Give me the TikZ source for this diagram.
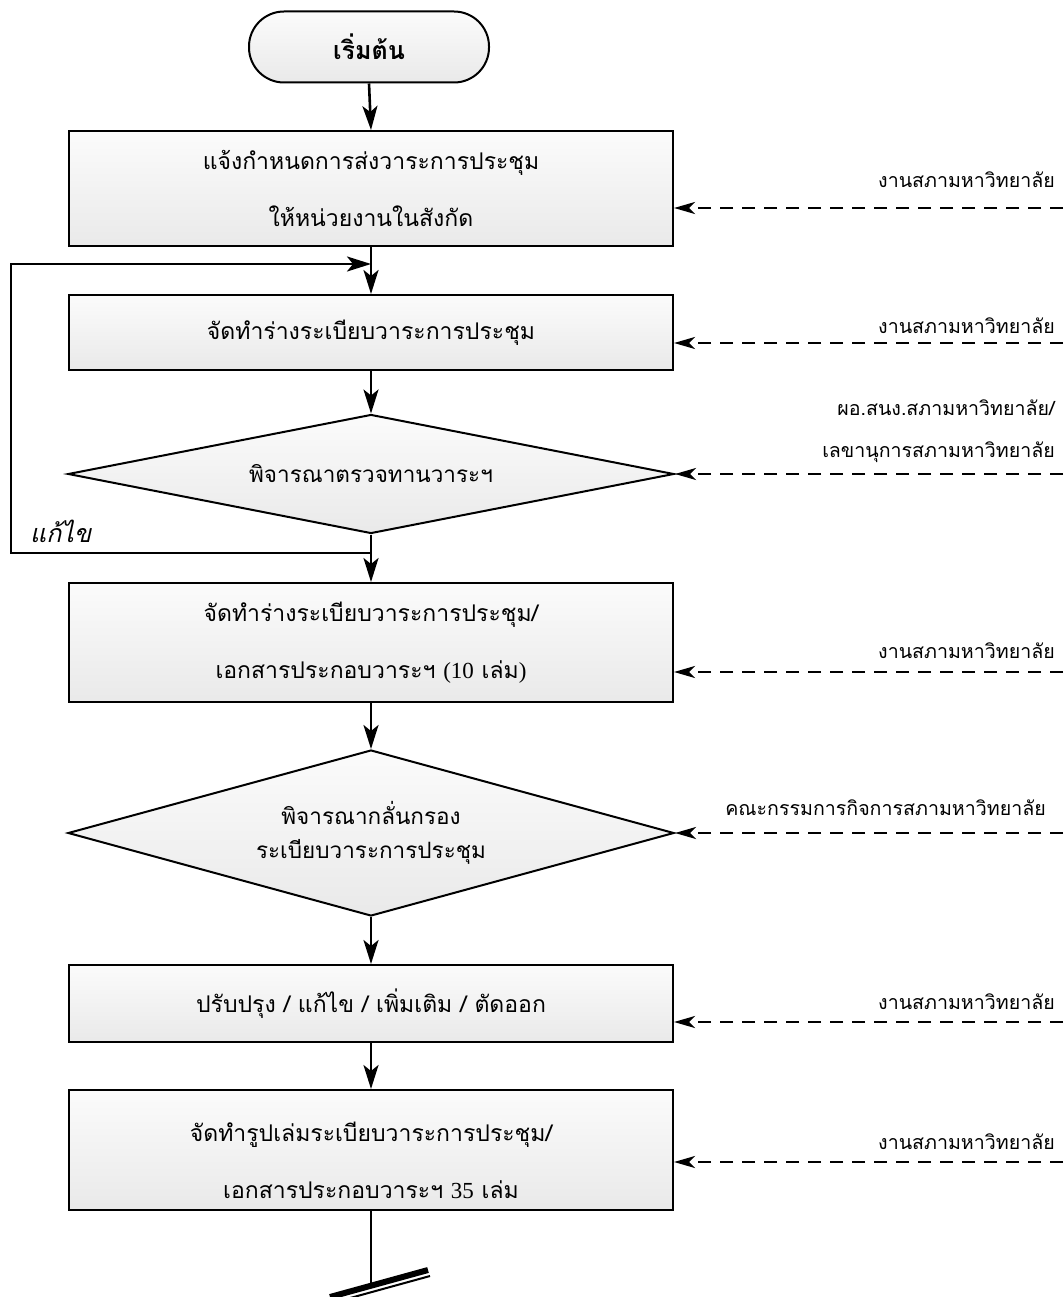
\documentclass[tikz,border=0pt]{standalone}
\usepackage{fontspec}
\setmainfont[Script=Thai]{Loma}
\newfontfamily\thaifont[Script=Thai]{Loma}
\newfontfamily\thaiitfont[Script=Thai,FakeSlant=0.22]{Loma}
\newfontfamily\latinfont{Liberation Serif}
\newcommand{\lat}[1]{{\latinfont #1}}
\usetikzlibrary{arrows.meta,shapes.geometric}

\begin{document}
\begin{tikzpicture}[x=1pt,y=-1pt,
  flowbox/.style={draw=black, line width=2pt, rectangle, minimum width=604pt,
    inner sep=0pt, top color=gray!3, bottom color=gray!17, align=center,
    font=\fontsize{23}{57}\thaifont},
  decision/.style={draw=black, line width=2pt, diamond, minimum width=606pt,
    inner sep=0pt, top color=gray!3, bottom color=gray!17},
  terminal/.style={draw=black, line width=2pt, rectangle, rounded corners=35pt,
    minimum width=240pt, minimum height=71pt, top color=gray!3, bottom color=gray!17,
    font=\fontsize{25}{30}\thaifont\bfseries},
  boxtext/.style={align=center, inner sep=0pt},
  sidelabel/.style={anchor=south east, inner sep=0pt, align=right,
    font=\fontsize{19.6}{42}\thaifont},
  conn/.style={line width=2.6pt, -{Stealth[length=24pt, width=15pt, inset=6pt]}},
  plain/.style={line width=2.4pt},
  feed/.style={line width=2.8pt, dash pattern=on 13pt off 9pt,
    -{Stealth[length=21pt, width=12pt, inset=6pt]}}
]
\useasboundingbox (0,0) rectangle (1063,1297);

% process steps
\node[terminal] (start) at (369,47) {เริ่มต้น};
\node[flowbox, minimum height=115pt] (b1) at (371,188.5)
  {แจ้งกำหนดการส่งวาระการประชุม\\ให้หน่วยงานในสังกัด};
\node[flowbox, minimum height=75pt] (b2) at (371,332.5) {จัดทำร่างระเบียบวาระการประชุม};
\node[decision, minimum height=119pt] (d1) at (371,474) {};
\node[boxtext, font=\fontsize{22.5}{30}\thaifont] (d1t) at (d1.center) {พิจารณาตรวจทานวาระฯ};
\node[flowbox, minimum height=119pt] (b3) at (371,642.5)
  {จัดทำร่างระเบียบวาระการประชุม/\\เอกสารประกอบวาระฯ \lat{(10} เล่ม\lat{)}};
\node[decision, minimum height=166pt] (d2) at (371,833) {};
\node[boxtext, font=\fontsize{22.5}{34}\thaifont] (d2t) at (d2.center)
  {พิจารณากลั่นกรอง\\ระเบียบวาระการประชุม};
\node[flowbox, minimum height=77pt] (b4) at (371,1003.5)
  {ปรับปรุง / แก้ไข / เพิ่มเติม / ตัดออก};
\node[flowbox, minimum height=120pt] (b5) at (371,1150) {};
\node[boxtext, font=\fontsize{23}{57}\thaifont] (b5t) at (371,1160)
  {จัดทำรูปเล่มระเบียบวาระการประชุม/\\เอกสารประกอบวาระฯ \lat{35} เล่ม};

% main flow
\draw[conn] (start.south) -- (b1.north);
\draw[conn] (b1.south) -- (b2.north);
\draw[conn] (b2.south) -- (d1.north);
\draw[conn] (d1.south) -- (b3.north);
\draw[conn] (b3.south) -- (d2.north);
\draw[conn] (d2.south) -- (b4.north);
\draw[conn] (b4.south) -- (b5.north);

% revision loop
\coordinate (loopout) at (371,553);
\coordinate (loopcorner) at (11,553);
\coordinate (loopin) at (371,264);
\draw[conn] (loopout) -- (loopcorner) |- (loopin);
\node[anchor=south west, inner sep=0pt, font=\fontsize{25}{30}\thaiitfont] (fix) at (30,543) {แก้ไข};

% continuation break
\coordinate (cut) at (371,1284);
\draw[plain] (b5.south) -- (cut);
\coordinate (barA) at (330,1297);
\coordinate (barB) at (428,1270);
\coordinate (thinA) at (332,1303);
\coordinate (thinB) at (430,1276);
\draw[line width=6pt] (barA) -- (barB);
\draw[line width=2pt] (thinA) -- (thinB);

% responsible units
\coordinate (r1) at (1063,208);
\coordinate (r2) at (1063,343);
\coordinate (r3) at (1063,474);
\coordinate (r4) at (1063,672);
\coordinate (r5) at (1063,833);
\coordinate (r6) at (1063,1022);
\coordinate (r7) at (1063,1162);

\node[sidelabel] (u1) at (1055,188) {งานสภามหาวิทยาลัย};
\node[sidelabel] (u2) at (1055,334) {งานสภามหาวิทยาลัย};
\node[sidelabel] (u3) at (1055,463) {ผอ.สนง.สภามหาวิทยาลัย/\\เลขานุการสภามหาวิทยาลัย};
\node[sidelabel] (u4) at (1055,659) {งานสภามหาวิทยาลัย};
\node[sidelabel] (u5) at (1046,816) {คณะกรรมการกิจการสภามหาวิทยาลัย};
\node[sidelabel] (u6) at (1055,1010) {งานสภามหาวิทยาลัย};
\node[sidelabel] (u7) at (1055,1150) {งานสภามหาวิทยาลัย};

\draw[feed] (r1) -- (r1 -| b1.east);
\draw[feed] (r2) -- (r2 -| b2.east);
\draw[feed] (r3) -- (d1.east);
\draw[feed] (r4) -- (r4 -| b3.east);
\draw[feed] (r5) -- (d2.east);
\draw[feed] (r6) -- (r6 -| b4.east);
\draw[feed] (r7) -- (r7 -| b5.east);
\end{tikzpicture}
\end{document}
